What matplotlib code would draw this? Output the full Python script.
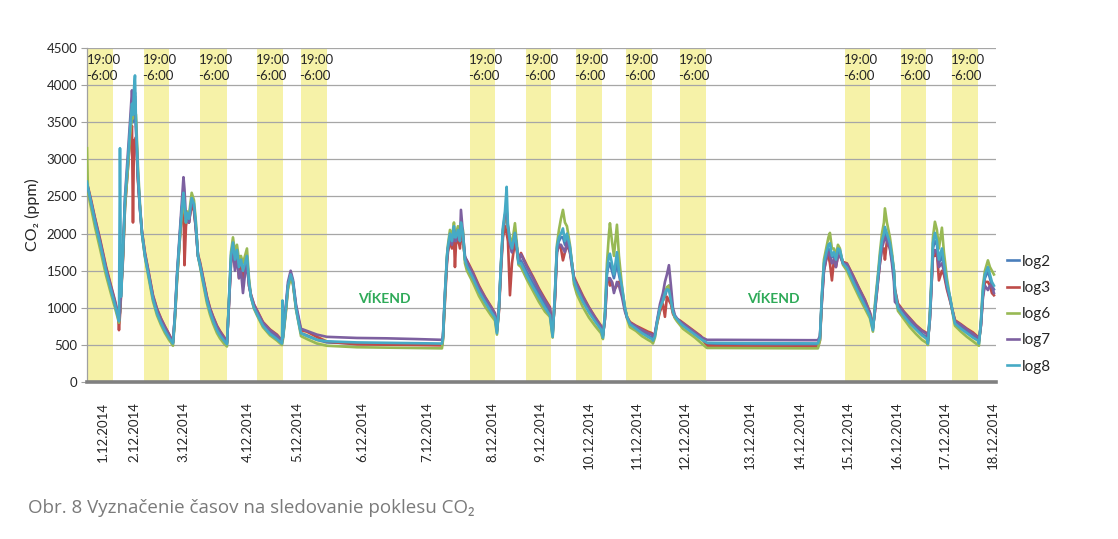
import matplotlib
matplotlib.use("Agg")
import matplotlib.pyplot as plt
import matplotlib.transforms as mtransforms

# ---------------- data ----------------
series_names = ["log2", "log3", "log6", "log7", "log8"]
series_colors = ["#4a7ebb", "#be4b48", "#98b954", "#7d60a0", "#46aac5"]

# position along the (category-like) time axis of the original chart
x_pos = [
    0, 1, 4, 8, 13, 19, 24, 28, 31, 32,
    33, 34, 36, 38, 41, 43, 45, 46, 47, 48, 49, 51, 53, 55, 58, 61, 66, 70, 74, 78, 82, 86,
    88, 90, 93, 95, 96.5, 97.5, 99, 100, 102, 104.7, 107, 109, 111, 113, 116, 120, 123, 126, 130, 133, 137, 140,
    142, 144, 146, 148, 150, 152, 154, 156, 158, 160, 162, 164, 167, 170, 176, 183, 190, 195,
    195.5, 196, 199, 201, 203.7, 206, 209, 212, 214,
    220, 230, 240, 270, 300, 330, 355,
    356, 358, 360, 361, 363, 365, 367, 368, 369, 371, 373, 374, 376, 378, 380, 386, 392, 398, 404, 408, 410,
    412, 414, 416, 418, 419.7, 421, 423, 425, 428, 430, 431.5, 434, 440, 446, 452, 458, 463, 465.7,
    468, 470, 472, 474, 476, 478, 480, 483, 485, 487, 490, 496, 502, 508, 514, 516,
    518, 520, 522, 523, 525, 527, 530, 532, 535, 538, 540, 543, 549, 555, 561, 565, 566,
    568, 570, 573, 576, 578, 580, 582, 584, 586, 588, 590, 593, 596, 602, 608, 614, 620,
    630, 660, 690, 720, 731,
    733, 735, 737, 740, 741.5, 743, 745, 747, 749, 751, 753, 756, 760, 766, 772, 778, 783, 786,
    788, 791, 793, 795, 797, 798, 800, 803, 805, 807, 808, 811, 817, 823, 829, 835, 840, 841,
    843, 845, 846, 848, 850, 852, 855, 857, 860, 863, 865, 868, 874, 880, 886, 891, 892,
    894, 896, 898, 901, 903, 905, 907,
]

log2 = [
    2680, 2600, 2420, 2170, 1880, 1510, 1250, 1060, 900, 830,
    950, 1200, 1700, 2400, 2950, 3350, 3650, 3500, 3800, 3900, 3450, 2750, 2330, 2000, 1700, 1490, 1130, 950, 820, 710, 620, 530,
    900, 1400, 2000, 2350, 2500, 2350, 2200, 2250, 2150, 2450, 2350, 2050, 1700, 1580, 1380, 1110, 960, 850, 720, 650, 575, 520,
    1100, 1650, 1850, 1600, 1750, 1500, 1600, 1400, 1550, 1650, 1350, 1150, 1010, 930, 770, 670, 600, 530,
    560, 600, 1000, 1300, 1460, 1350, 1000, 800, 660,
    630, 570, 535, 520, 515, 510, 505,
    600, 1150, 1650, 1800, 1950, 1850, 2050, 1900, 1900, 2000, 1850, 2100, 1950, 1650, 1580, 1430, 1250, 1110, 980, 900, 680,
    1000, 1550, 2000, 2200, 2300, 2050, 1850, 1750, 2000, 1800, 1620, 1640, 1480, 1330, 1190, 1050, 940, 640,
    1150, 1800, 1900, 1950, 1950, 1850, 1950, 1800, 1600, 1400, 1290, 1120, 980, 850, 740, 620,
    880, 1450, 1600, 1600, 1500, 1400, 1600, 1450, 1250, 1000, 880, 790, 740, 680, 630, 600, 580,
    640, 800, 1000, 1100, 1150, 1250, 1300, 1150, 950, 880, 850, 810, 770, 710, 650, 590, 515,
    512, 510, 508, 508, 507,
    580, 1150, 1550, 1750, 1800, 1750, 1680, 1700, 1600, 1750, 1750, 1620, 1570, 1400, 1230, 1070, 920, 720,
    1000, 1400, 1650, 1850, 1950, 2000, 1950, 1850, 1700, 1500, 1250, 1020, 910, 810, 730, 650, 600, 540,
    900, 1450, 1800, 1900, 1850, 1600, 1700, 1550, 1300, 1150, 1000, 810, 740, 680, 620, 580, 540,
    780, 1200, 1400, 1500, 1400, 1300, 1250,
]

log3 = [
    2650, 2630, 2460, 2210, 1930, 1560, 1300, 1100, 920, 700,
    900, 1150, 1650, 2350, 2900, 3250, 3450, 2150, 3260, 3200, 3300, 2700, 2350, 2030, 1740, 1530, 1170, 990, 860, 750, 650, 540,
    880, 1380, 1950, 2300, 2400, 1575, 2100, 2200, 2150, 2400, 2300, 2050, 1720, 1620, 1420, 1150, 1000, 890, 760, 690, 610, 540,
    1050, 1600, 1800, 1550, 1700, 1400, 1550, 1350, 1500, 1600, 1300, 1180, 1050, 970, 810, 710, 640, 560,
    580, 620, 980, 1280, 1430, 1330, 1020, 820, 700,
    680, 610, 545, 510, 505, 500, 495,
    580, 1100, 1600, 1750, 1900, 1800, 1950, 1550, 1850, 1950, 1800, 2000, 1900, 1680, 1640, 1480, 1300, 1150, 1020, 930, 700,
    950, 1500, 1950, 2100, 2000, 1900, 1170, 1600, 1900, 1750, 1650, 1740, 1570, 1420, 1260, 1120, 1010, 680,
    1100, 1750, 1850, 1800, 1640, 1750, 1850, 1750, 1600, 1420, 1330, 1160, 1010, 880, 760, 640,
    850, 1350, 1400, 1300, 1350, 1240, 1300, 1350, 1200, 980, 880, 810, 760, 720, 680, 660, 640,
    650, 780, 950, 1050, 880, 1150, 1100, 1050, 920, 870, 850, 830, 800, 740, 680, 620, 490,
    485, 480, 478, 478, 478,
    560, 1100, 1500, 1700, 1700, 1600, 1370, 1650, 1550, 1700, 1700, 1620, 1600, 1440, 1270, 1110, 940, 740,
    950, 1350, 1600, 1800, 1800, 1650, 1900, 1800, 1650, 1450, 1250, 1060, 950, 860, 770, 700, 660, 560,
    850, 1400, 1700, 1700, 1750, 1370, 1500, 1450, 1250, 1100, 1000, 835, 780, 720, 670, 610, 560,
    760, 1150, 1350, 1350, 1300, 1200, 1170,
]

log6 = [
    3150, 2550, 2350, 2090, 1800, 1440, 1190, 1000, 850, 800,
    950, 1200, 1700, 2350, 2900, 3300, 3600, 3550, 3700, 3650, 3600, 2900, 2400, 2000, 1680, 1450, 1090, 900, 770, 660, 570, 490,
    850, 1350, 1950, 2300, 2450, 2300, 2150, 2300, 2250, 2550, 2450, 2150, 1700, 1560, 1340, 1060, 910, 790, 660, 590, 520, 480,
    1100, 1750, 1950, 1750, 1850, 1650, 1700, 1600, 1700, 1800, 1400, 1150, 990, 900, 740, 630, 560, 500,
    540, 580, 950, 1250, 1400, 1320, 980, 770, 620,
    580, 520, 490, 470, 465, 460, 455,
    560, 1150, 1700, 1850, 2050, 1950, 2150, 2000, 2000, 2100, 1950, 2100, 2050, 1600, 1500, 1340, 1160, 1020, 900, 830, 640,
    1000, 1600, 2050, 2200, 2200, 2100, 1950, 1850, 2140, 1850, 1580, 1550, 1380, 1230, 1080, 950, 880, 600,
    1200, 1850, 2050, 2200, 2320, 2150, 2100, 1850, 1600, 1320, 1180, 1010, 870, 760, 660, 580,
    950, 1600, 2000, 2140, 1900, 1700, 2120, 1700, 1300, 1000, 860, 740, 690, 620, 570, 540, 520,
    600, 780, 1000, 1100, 1200, 1280, 1300, 1150, 950, 860, 820, 770, 720, 660, 600, 530, 460,
    460, 458, 455, 455, 455,
    560, 1150, 1650, 1850, 1950, 2010, 1800, 1800, 1700, 1850, 1800, 1580, 1500, 1320, 1150, 990, 860, 680,
    1050, 1450, 1750, 2000, 2150, 2340, 2150, 1950, 1750, 1500, 1200, 960, 850, 740, 650, 570, 525, 500,
    950, 1550, 1950, 2160, 2050, 1800, 2080, 1750, 1400, 1150, 980, 760, 680, 610, 550, 500, 490,
    820, 1300, 1500, 1640, 1550, 1500, 1450,
]

log7 = [
    2620, 2610, 2440, 2200, 1910, 1540, 1280, 1080, 910, 830,
    950, 1200, 1750, 2500, 3100, 3500, 3930, 3700, 3800, 3850, 3400, 2750, 2330, 2020, 1730, 1520, 1160, 980, 850, 740, 640, 530,
    920, 1450, 2050, 2450, 2760, 2600, 2200, 2250, 2150, 2450, 2350, 2050, 1700, 1600, 1400, 1140, 990, 880, 750, 680, 600, 530,
    1050, 1600, 1800, 1500, 1700, 1400, 1500, 1200, 1450, 1600, 1300, 1170, 1040, 960, 800, 700, 630, 550,
    590, 630, 1050, 1350, 1500, 1380, 1050, 850, 720,
    690, 640, 610, 595, 590, 580, 570,
    620, 1200, 1650, 1800, 1950, 1850, 2050, 1900, 1900, 2000, 1900, 2320, 2000, 1700, 1620, 1460, 1280, 1140, 1010, 920, 700,
    1000, 1550, 2050, 2250, 2320, 2100, 1850, 1750, 2000, 1800, 1620, 1720, 1550, 1400, 1240, 1100, 990, 660,
    1150, 1750, 1850, 1850, 1800, 1750, 1900, 1750, 1550, 1400, 1310, 1140, 1000, 870, 750, 630,
    850, 1350, 1400, 1400, 1350, 1200, 1350, 1300, 1150, 950, 870, 800, 750, 700, 660, 640, 620,
    660, 820, 1050, 1200, 1350, 1450, 1575, 1300, 1000, 900, 860, 820, 790, 730, 670, 610, 570,
    570, 568, 565, 565, 565,
    620, 1100, 1500, 1700, 1750, 1700, 1600, 1650, 1550, 1700, 1700, 1600, 1590, 1430, 1260, 1100, 930, 730,
    950, 1350, 1600, 1800, 1900, 1950, 1900, 1800, 1600, 1350, 1080, 1040, 940, 850, 760, 690, 650, 560,
    850, 1400, 1700, 1780, 1750, 1550, 1600, 1500, 1280, 1120, 990, 820, 770, 710, 650, 600, 560,
    760, 1150, 1300, 1240, 1300, 1300, 1200,
]

log8 = [
    2700, 2620, 2420, 2160, 1870, 1500, 1240, 1040, 880, 820,
    3150, 1150, 1750, 2450, 3000, 3400, 3750, 3600, 3950, 4130, 3500, 2800, 2350, 2000, 1700, 1480, 1120, 930, 800, 690, 600, 520,
    900, 1420, 2000, 2350, 2550, 2400, 2150, 2280, 2200, 2480, 2400, 2100, 1700, 1580, 1370, 1100, 950, 830, 700, 630, 560, 510,
    1100, 1700, 1880, 1650, 1780, 1550, 1650, 1500, 1600, 1700, 1350, 1150, 1000, 920, 760, 650, 580, 520,
    1100, 600, 1000, 1300, 1450, 1350, 1000, 780, 660,
    620, 570, 550, 535, 530, 525, 520,
    600, 1200, 1700, 1820, 2000, 1900, 2100, 1950, 1950, 2050, 1900, 2150, 2000, 1650, 1560, 1400, 1220, 1080, 950, 870, 660,
    1000, 1600, 2090, 2300, 2630, 2100, 1900, 1800, 2010, 1800, 1600, 1600, 1430, 1280, 1140, 1000, 900, 610,
    1200, 1820, 1950, 2000, 2070, 1900, 2000, 1820, 1600, 1370, 1250, 1080, 940, 820, 710, 600,
    900, 1500, 1700, 1730, 1600, 1450, 1750, 1500, 1280, 1000, 880, 780, 720, 660, 610, 580, 560,
    620, 800, 1000, 1100, 1200, 1250, 1240, 1100, 950, 880, 850, 800, 760, 700, 640, 580, 530,
    528, 525, 524, 522, 522,
    600, 1200, 1600, 1780, 1850, 1870, 1700, 1750, 1650, 1800, 1780, 1600, 1540, 1360, 1190, 1030, 890, 700,
    1000, 1400, 1690, 1900, 2000, 2090, 2000, 1870, 1700, 1500, 1240, 1000, 890, 790, 710, 630, 580, 520,
    900, 1500, 1870, 2010, 1900, 1650, 1800, 1600, 1330, 1150, 1000, 790, 720, 660, 600, 560, 520,
    800, 1240, 1450, 1550, 1450, 1350, 1300,
]

series_values = [log2, log3, log6, log7, log8]

date_labels = ["1.12.2014", "2.12.2014", "3.12.2014", "4.12.2014", "5.12.2014",
               "6.12.2014", "7.12.2014", "8.12.2014", "9.12.2014", "10.12.2014",
               "11.12.2014", "12.12.2014", "13.12.2014", "14.12.2014", "15.12.2014",
               "16.12.2014", "17.12.2014", "18.12.2014"]
date_pos = [16, 47, 96, 161, 210, 275, 340, 405, 453, 502, 550, 598, 663, 713, 761, 810, 858, 906]

night_start = [1, 57, 113, 170, 214, 383, 439, 489, 539, 593, 758, 814, 865]
night_end = [26, 82, 140, 196, 240, 408, 464, 515, 565, 619, 783, 839, 891]
night_label = "19:00\n-6:00"

weekend_x = [297, 686]
weekend_y = [1118, 1118]
weekend_text = "VÍKEND"

y_ticks = list(range(0, 4501, 500))
caption = "Obr. 8 Vyznačenie časov na sledovanie poklesu CO₂"

for v in series_values:
    assert len(v) == len(x_pos), len(v)

# ---------------- figure ----------------
plt.rcParams["font.family"] = ["Lato", "DejaVu Sans"]
fig = plt.figure(figsize=(11.18, 5.39), dpi=100)
ax = fig.add_axes([0.0778, 0.291, 0.813, 0.62])

# night bands
for s, e in zip(night_start, night_end):
    ax.axvspan(s, e, color="#f6f2a8", lw=0, zorder=0.2)

trans = mtransforms.blended_transform_factory(ax.transData, ax.transAxes)
for s in night_start:
    ax.text(s - 1.5, 0.94, night_label, transform=trans, ha="left", va="center",
            fontsize=9.5, color="#262626", linespacing=1.45, zorder=5)

for name, col, vals in zip(series_names, series_colors, series_values):
    ax.plot(x_pos, vals, color=col, lw=1.9, label=name, zorder=3)

for xw, yw in zip(weekend_x, weekend_y):
    ax.text(xw, yw, weekend_text, ha="center", va="center", fontsize=10,
            fontweight="bold", color="#2eaa58", zorder=6)

ax.set_xlim(0, 909)
ax.set_ylim(0, 4500)
ax.set_yticks(y_ticks)
ax.set_yticklabels([str(t) for t in y_ticks], fontsize=9.5, color="#262626")
ax.set_xticks(date_pos)
ax.set_xticklabels(date_labels, rotation=90, fontsize=9.5, color="#262626")
ax.tick_params(axis="x", length=0, pad=14)
ax.tick_params(axis="y", length=4, width=0.8, color="#a0a0a0", pad=3)

ax.set_axisbelow(True)
ax.yaxis.grid(True, color="#a6a6a6", lw=0.9)
ax.xaxis.grid(False)
for sp in ["top", "right"]:
    ax.spines[sp].set_visible(False)
ax.spines["left"].set_color("#a0a0a0")
ax.spines["left"].set_linewidth(0.9)
ax.spines["bottom"].set_color("#808080")
ax.spines["bottom"].set_linewidth(2.6)
ax.spines["bottom"].set_zorder(4)

ax.set_ylabel("CO₂ (ppm)", fontsize=11.5, color="#262626", labelpad=5)

leg = fig.legend(loc="center left", bbox_to_anchor=(0.894, 0.417), frameon=False,
                 fontsize=11, handlelength=0.8, handletextpad=0.15, labelspacing=0.8,
                 borderpad=0)
for t in leg.get_texts():
    t.set_color("#262626")

fig.text(28 / 1118, 1 - 508 / 539, caption, fontsize=13.5, color="#7a7a7a",
         ha="left", va="center", family=["Open Sans", "DejaVu Sans"])

fig.savefig("out.png", dpi=100, facecolor="white")
